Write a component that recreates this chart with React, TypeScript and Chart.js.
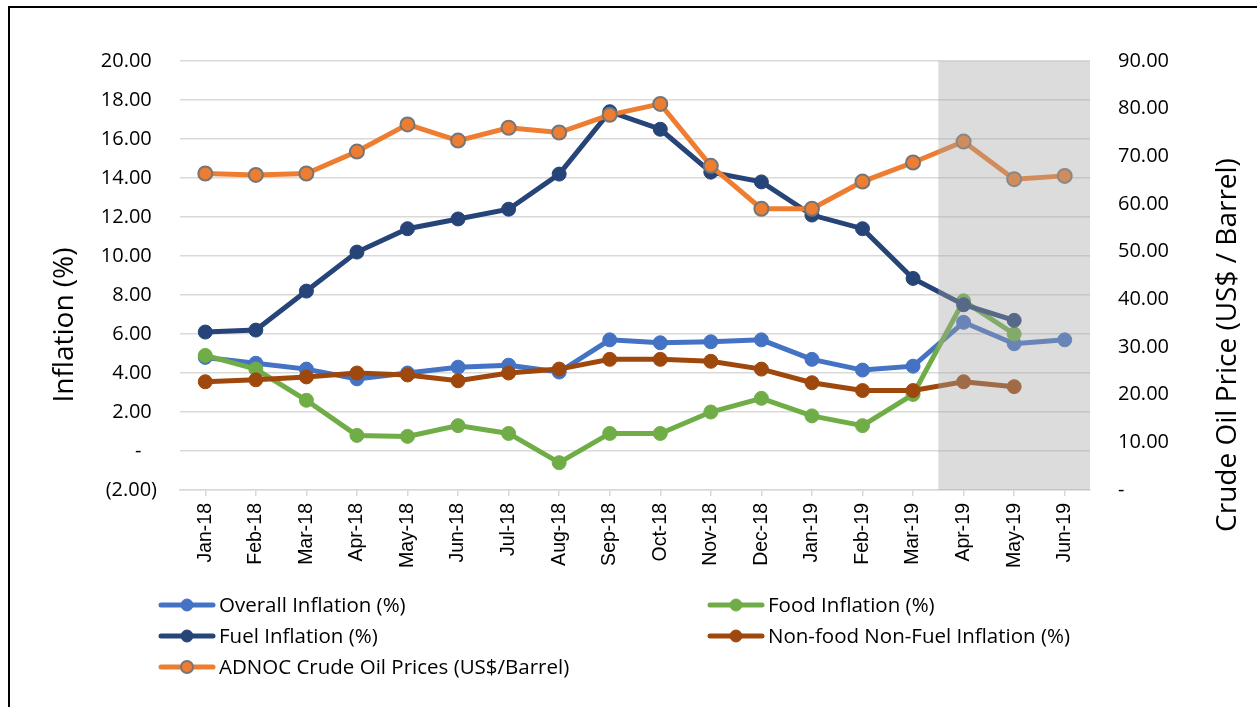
import React, { useEffect, useRef } from 'react';
import { Chart, registerables } from 'chart.js';

Chart.register(...registerables);

const months = [
  'Jan-18', 'Feb-18', 'Mar-18', 'Apr-18', 'May-18', 'Jun-18', 'Jul-18', 'Aug-18', 'Sep-18',
  'Oct-18', 'Nov-18', 'Dec-18', 'Jan-19', 'Feb-19', 'Mar-19', 'Apr-19', 'May-19', 'Jun-19',
];
const overallInflation = [4.8, 4.5, 4.2, 3.7, 4.0, 4.3, 4.4, 4.05, 5.7, 5.55, 5.6, 5.7, 4.7, 4.15, 4.35, 6.6, 5.5, 5.7];
const foodInflation = [4.9, 4.2, 2.6, 0.8, 0.75, 1.3, 0.9, -0.6, 0.9, 0.9, 2.0, 2.7, 1.8, 1.3, 2.9, 7.7, 6.0, null];
const fuelInflation = [6.1, 6.2, 8.2, 10.2, 11.4, 11.9, 12.4, 14.2, 17.4, 16.5, 14.3, 13.8, 12.1, 11.4, 8.85, 7.5, 6.7, null];
const nonFoodNonFuelInflation = [3.55, 3.65, 3.8, 4.0, 3.9, 3.6, 4.0, 4.2, 4.7, 4.7, 4.6, 4.2, 3.5, 3.1, 3.1, 3.55, 3.3, null];
const adnocCrudePrices = [66.4, 66.1, 66.4, 71.0, 76.7, 73.3, 76.0, 75.0, 78.7, 81.0, 68.0, 59.0, 59.0, 64.7, 68.7, 73.1, 65.2, 65.9];

const seriesLabels = [
  'Overall Inflation (%)',
  'Food Inflation (%)',
  'Fuel Inflation (%)',
  'Non-food Non-Fuel Inflation (%)',
  'ADNOC Crude Oil Prices (US$/Barrel)',
];
const seriesColors = ['#4472C4', '#70AD47', '#264478', '#9E480E', '#ED7D31'];
const shadeStartMonth = 'Apr-19';
const leftAxisTitle = 'Inflation (%)';
const rightAxisTitle = 'Crude Oil Price (US$ / Barrel)';

const W = 1257;
const H = 707;
const FONT = '"Open Sans", sans-serif';

const shadePlugin = {
  id: 'shade',
  afterDatasetsDraw(chart: any) {
    const { ctx, chartArea, scales } = chart;
    const x = scales.x;
    const idx = months.indexOf(shadeStartMonth);
    const left = (x.getPixelForValue(idx - 1) + x.getPixelForValue(idx)) / 2;
    ctx.save();
    ctx.fillStyle = 'rgba(165,165,165,0.39)';
    ctx.fillRect(left, chartArea.top, chartArea.right - left, chartArea.bottom - chartArea.top);
    ctx.restore();
  },
};

const titlesPlugin = {
  id: 'axisTitles',
  afterDraw(chart: any) {
    const { ctx } = chart;
    ctx.save();
    ctx.fillStyle = '#000';
    ctx.font = `28px ${FONT}`;
    ctx.textAlign = 'center';
    ctx.textBaseline = 'middle';
    ctx.save();
    ctx.translate(65, 325);
    ctx.rotate(-Math.PI / 2);
    ctx.fillText(leftAxisTitle, 0, 0);
    ctx.restore();
    ctx.save();
    ctx.translate(1228, 345);
    ctx.rotate(-Math.PI / 2);
    ctx.fillText(rightAxisTitle, 0, 0);
    ctx.restore();
    ctx.restore();
  },
};

const legendPlugin = {
  id: 'customLegend',
  afterDraw(chart: any) {
    const { ctx } = chart;
    const colStarts = [161, 710];
    const rowY0 = 605;
    const rowGap = 31;
    chart.data.datasets.forEach((ds: any, i: number) => {
      const col = i % 2;
      const row = Math.floor(i / 2);
      const x0 = colStarts[col];
      const y = rowY0 + row * rowGap;
      ctx.save();
      ctx.strokeStyle = ds.borderColor;
      ctx.lineWidth = 5;
      ctx.lineCap = 'round';
      ctx.beginPath();
      ctx.moveTo(x0, y);
      ctx.lineTo(x0 + 52, y);
      ctx.stroke();
      ctx.beginPath();
      ctx.arc(x0 + 26, y, 6, 0, Math.PI * 2);
      ctx.fillStyle = ds.pointBackgroundColor;
      ctx.fill();
      ctx.lineWidth = ds.pointBorderWidth;
      ctx.strokeStyle = ds.pointBorderColor;
      ctx.stroke();
      ctx.fillStyle = '#000';
      ctx.font = `20.5px ${FONT}`;
      ctx.textAlign = 'left';
      ctx.textBaseline = 'middle';
      ctx.fillText(ds.label, x0 + 58, y + 1);
      ctx.restore();
    });
  },
};

function makeDataset(i: number, data: (number | null)[], yAxisID: string, order: number) {
  const c = seriesColors[i];
  const isOil = i === 4;
  return {
    label: seriesLabels[i],
    data,
    yAxisID,
    order,
    borderColor: c,
    backgroundColor: c,
    borderWidth: 5,
    pointRadius: 7,
    pointHoverRadius: 7,
    pointBackgroundColor: c,
    pointBorderColor: isOil ? '#767676' : c,
    pointBorderWidth: isOil ? 2 : 1,
    tension: 0,
  };
}

export default function App() {
  const canvasRef = useRef<HTMLCanvasElement | null>(null);

  useEffect(() => {
    if (!canvasRef.current) return;
    const chart = new Chart(canvasRef.current, {
      type: 'line',
      data: {
        labels: months,
        datasets: [
          makeDataset(0, overallInflation, 'y', 5),
          makeDataset(1, foodInflation, 'y', 4),
          makeDataset(2, fuelInflation, 'y', 3),
          makeDataset(3, nonFoodNonFuelInflation, 'y', 2),
          makeDataset(4, adnocCrudePrices, 'y1', 1),
        ],
      },
      options: {
        responsive: false,
        maintainAspectRatio: false,
        devicePixelRatio: 1,
        animation: false,
        layout: { padding: { top: 61, left: 0, right: 0, bottom: 0 } },
        plugins: {
          legend: { display: false },
          title: { display: false },
          tooltip: { enabled: false },
        },
        scales: {
          x: {
            type: 'category',
            offset: true,
            grid: {
              drawOnChartArea: false,
              drawTicks: true,
              tickLength: 6,
              color: '#d9d9d9',
              lineWidth: 1.5,
            },
            border: { color: '#d9d9d9', width: 1.5 },
            ticks: {
              autoSkip: false,
              maxRotation: 90,
              minRotation: 90,
              padding: 7,
              color: '#000',
              font: { family: '"Liberation Sans", Arial, sans-serif', size: 19.5 },
            },
            afterFit: (s: any) => {
              s.height = H - 490;
            },
          },
          y: {
            position: 'left',
            min: -2,
            max: 20,
            ticks: {
              stepSize: 2,
              padding: 23,
              color: '#000',
              font: { family: FONT, size: 20 },
              callback: (v: any) => {
                const n = Number(v);
                if (Math.abs(n) < 1e-9) return '-   ';
                if (n < 0) return `(${Math.abs(n).toFixed(2)})`;
                return n.toFixed(2) + ' ';
              },
            },
            grid: { color: '#d9d9d9', lineWidth: 1.5, drawTicks: false },
            border: { display: false },
            afterFit: (s: any) => {
              s.width = 180;
            },
          },
          y1: {
            position: 'right',
            min: 0,
            max: 90,
            ticks: {
              stepSize: 10,
              padding: 28,
              color: '#000',
              font: { family: FONT, size: 20 },
              callback: (v: any) => {
                const n = Number(v);
                if (Math.abs(n) < 1e-9) return '-';
                return n.toFixed(2);
              },
            },
            grid: { drawOnChartArea: false, drawTicks: false },
            border: { display: false },
            afterFit: (s: any) => {
              s.width = W - 1090;
            },
          },
        },
      },
      plugins: [shadePlugin, titlesPlugin, legendPlugin],
    } as any);
    return () => chart.destroy();
  }, []);

  return (
    <div style={{ position: 'fixed', left: 0, top: 0, width: W, height: H, background: '#fff', overflow: 'hidden' }}>
      <canvas ref={canvasRef} width={W} height={H} style={{ position: 'absolute', left: 0, top: 0, width: W, height: H }} />
      <div
        style={{
          position: 'absolute',
          left: 8,
          top: 6,
          width: W - 8,
          height: H - 6,
          borderTop: '2px solid #000',
          borderLeft: '2px solid #000',
          boxSizing: 'border-box',
          pointerEvents: 'none',
        }}
      />
    </div>
  );
}
